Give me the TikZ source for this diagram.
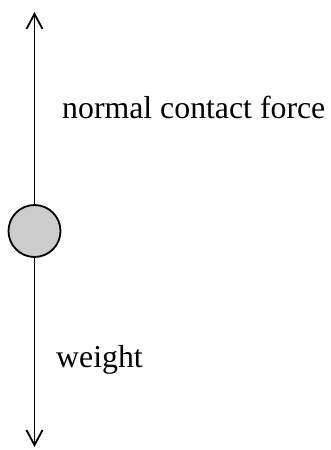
\documentclass[tikz,border=0pt]{standalone}
\usepackage{fontspec}
\setmainfont{Liberation Serif}
\usetikzlibrary{arrows.meta}
\begin{document}
\begin{tikzpicture}[x=1pt,y=-1pt,
  force/.style={line width=1.8pt,-{Straight Barb[length=15pt,width=16pt,line width=1.8pt]}},
  ball/.style={circle,draw,line width=1.8pt,fill=black!20,minimum size=52pt,inner sep=0pt},
  label/.style={inner sep=0pt,font=\fontsize{31.8}{36}\selectfont}]
\useasboundingbox (0,0) rectangle (331,450);
\node[ball] (b) at (34.5,231) {};
\coordinate (top) at (34.5,12);
\coordinate (bot) at (34.5,447);
\draw[force] (b) -- (top);
\draw[force] (b) -- (bot);
\node[label,anchor=base west] (n) at (62,118) {normal contact force};
\node[label,anchor=base west] (w) at (56,367) {weight};
\end{tikzpicture}
\end{document}
